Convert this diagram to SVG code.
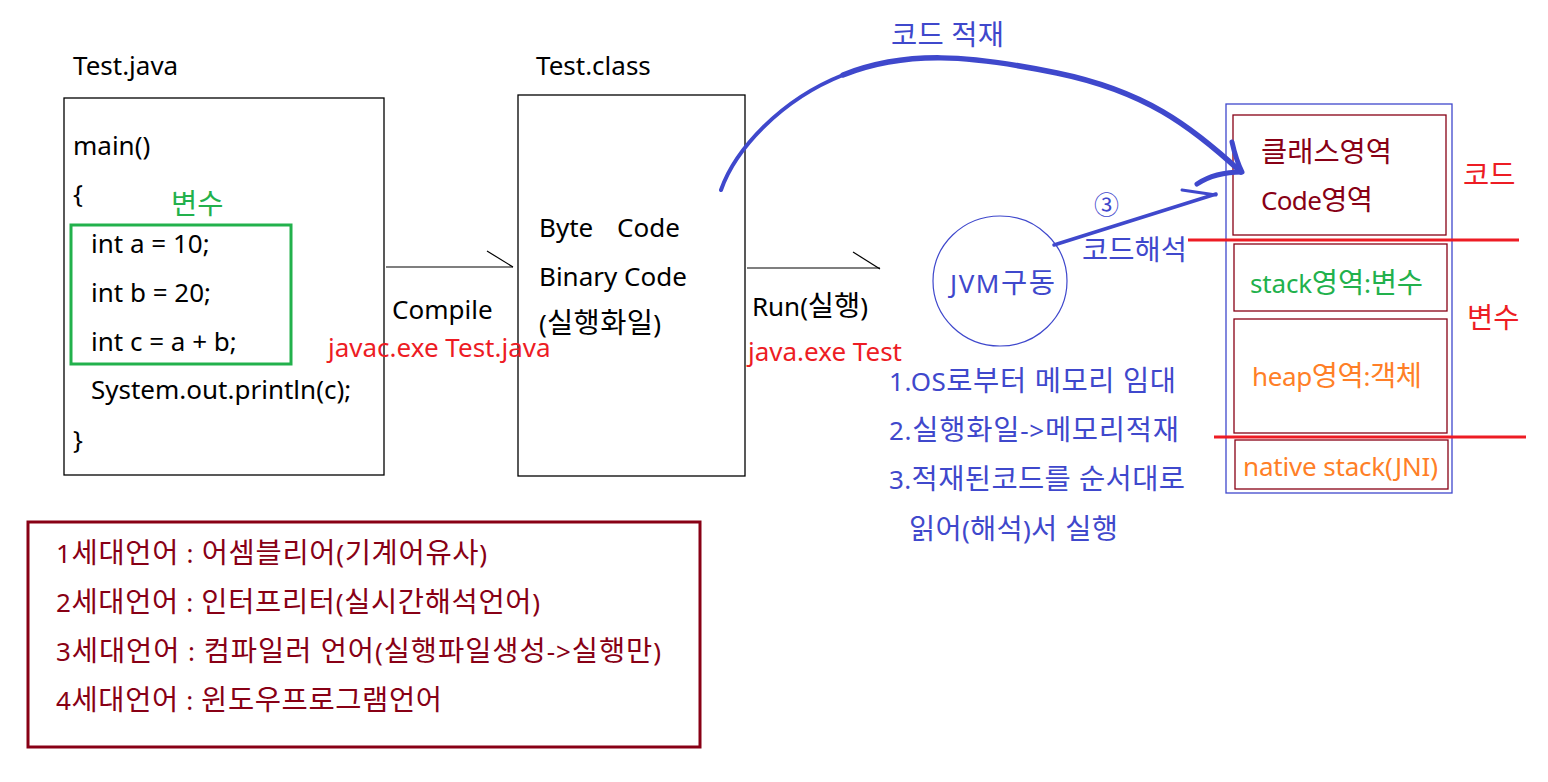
<svg xmlns="http://www.w3.org/2000/svg" width="1548" height="782" viewBox="0 0 1548 782">
<style>
text { font-family: "Noto Sans", "Noto Sans CJK KR", sans-serif; font-size: 26px; }
.h { font-size: 28.5px; }
.k { fill: #000000; }
.b { fill: #3f48cc; }
.r { fill: #ed1c24; }
.g { fill: #22b14c; }
.o { fill: #ff7f27; }
.d { fill: #880015; }
.box { fill: none; stroke: #000000; stroke-width: 1.3; }
.mem { fill: none; stroke: #880015; stroke-width: 1.3; }
.conn { fill: none; stroke: #000000; stroke-width: 1.2; }
.blue { fill: none; stroke: #3f48cc; stroke-linecap: round; stroke-linejoin: round; }
.redline { stroke: #ed1c24; stroke-width: 3; }
</style>
<rect width="1548" height="782" fill="#ffffff"/>

<g id="test-java">
  <text class="k" x="73" y="75">Test.java</text>
  <rect class="box" x="64" y="98" width="320" height="377"/>
  <text class="k" x="73" y="155">main()</text>
  <text class="k" x="73" y="203">{</text>
  <text class="g h" x="171" y="214">변수</text>
  <rect x="71" y="225" width="220" height="139" fill="none" stroke="#22b14c" stroke-width="3"/>
  <text class="k" x="91" y="253">int a = 10;</text>
  <text class="k" x="91" y="302">int b = 20;</text>
  <text class="k" x="91" y="351">int c = a + b;</text>
  <text class="k" x="91" y="399">System.out.println(c);</text>
  <text class="k" x="73" y="449">}</text>
</g>

<g id="test-class">
  <text class="k" x="536" y="75">Test.class</text>
  <rect class="box" x="518" y="95" width="227" height="381"/>
  <text class="k" x="539" y="237">Byte<tspan x="617">Code</tspan></text>
  <text class="k" x="539" y="286">Binary Code</text>
  <text class="k" x="539" y="333" textLength="122" lengthAdjust="spacing">(<tspan class="h">실행화일</tspan>)</text>
</g>

<g id="jvm">
  <ellipse cx="1000" cy="281" rx="67" ry="65" fill="none" stroke="#3f48cc" stroke-width="1.2"/>
  <text class="b" x="950" y="293" textLength="105" lengthAdjust="spacing">JVM<tspan class="h">구동</tspan></text>
</g>

<g id="memory">
  <rect x="1226" y="104" width="226" height="389" fill="none" stroke="#3f48cc" stroke-width="1.3"/>
  <rect class="mem" x="1233" y="115" width="213" height="120"/>
  <rect class="mem" x="1234" y="244" width="213" height="67"/>
  <rect class="mem" x="1234" y="319" width="213" height="114"/>
  <rect class="mem" x="1235" y="440" width="213" height="49"/>
  <text class="d h" x="1261" y="162" textLength="131" lengthAdjust="spacing">클래스영역</text>
  <text class="d" x="1261" y="210" textLength="112" lengthAdjust="spacing">Code<tspan class="h">영역</tspan></text>
  <text class="g" x="1250" y="293" textLength="173" lengthAdjust="spacing">stack<tspan class="h">영역</tspan>:<tspan class="h">변수</tspan></text>
  <text class="o" x="1252" y="386" textLength="170" lengthAdjust="spacing">heap<tspan class="h">영역</tspan>:<tspan class="h">객체</tspan></text>
  <text class="o" x="1243" y="476" textLength="195" lengthAdjust="spacing">native stack(JNI)</text>
  <line class="redline" x1="1188" y1="240" x2="1519" y2="240"/>
  <line class="redline" x1="1214" y1="437" x2="1526" y2="437"/>
  <text class="r h" x="1463" y="185">코드</text>
  <text class="r h" x="1467" y="328">변수</text>
</g>

<g id="generations">
  <rect x="28" y="522" width="672" height="225" fill="none" stroke="#880015" stroke-width="3"/>
  <text class="d" x="56" y="563" textLength="431" lengthAdjust="spacing">1<tspan class="h">세대언어</tspan> : <tspan class="h">어셈블리어</tspan>(<tspan class="h">기계어유사</tspan>)</text>
  <text class="d" x="56" y="612" textLength="484" lengthAdjust="spacing">2<tspan class="h">세대언어</tspan> : <tspan class="h">인터프리터</tspan>(<tspan class="h">실시간해석언어</tspan>)</text>
  <text class="d" x="56" y="661" textLength="605" lengthAdjust="spacing">3<tspan class="h">세대언어</tspan> : <tspan class="h">컴파일러 언어</tspan>(<tspan class="h">실행파일생성</tspan>-&gt;<tspan class="h">실행만</tspan>)</text>
  <text class="d" x="56" y="710" textLength="386" lengthAdjust="spacing">4<tspan class="h">세대언어</tspan> : <tspan class="h">윈도우프로그램언어</tspan></text>
</g>

<g id="jvm-steps">
  <text class="b" x="889" y="391" textLength="287" lengthAdjust="spacing">1.OS<tspan class="h">로부터 메모리 임대</tspan></text>
  <text class="b" x="889" y="440" textLength="290" lengthAdjust="spacing">2.<tspan class="h">실행화일</tspan>-&gt;<tspan class="h">메모리적재</tspan></text>
  <text class="b" x="889" y="489" textLength="296" lengthAdjust="spacing">3.<tspan class="h">적재된코드를 순서대로</tspan></text>
  <text class="b" x="909" y="539" textLength="209" lengthAdjust="spacing"><tspan class="h">읽어</tspan>(<tspan class="h">해석</tspan>)<tspan class="h">서 실행</tspan></text>
</g>

<g id="connectors">
  <line class="conn" x1="386" y1="267" x2="513" y2="267"/>
  <line class="conn" x1="487" y1="251" x2="513" y2="267"/>
  <text class="k" x="392" y="319">Compile</text>
  <text class="r" x="328" y="357">javac.exe Test.java</text>

  <line class="conn" x1="747" y1="268" x2="880" y2="268"/>
  <line class="conn" x1="853" y1="252" x2="880" y2="269"/>
  <text class="k" x="752" y="316" textLength="116" lengthAdjust="spacing">Run(<tspan class="h">실행</tspan>)</text>
  <text class="r" x="748" y="361">java.exe Test</text>

  <path class="blue" stroke-width="4" d="M721,190 C735,150 780,100 843,75"/>
  <path class="blue" stroke-width="5.5" d="M843,75 C906,50 970,55 1057,73 C1144,91 1190,125 1241,172"/>
  <path class="blue" stroke-width="5" d="M1232,142 Q1236,160 1242,172 Q1215,172 1197,184"/>
  <text class="b h" x="891" y="45" textLength="113" lengthAdjust="spacing">코드 적재</text>

  <line class="blue" stroke-width="3.5" x1="1054" y1="245" x2="1216" y2="194"/>
  <line class="blue" stroke-width="3" x1="1182" y1="190" x2="1216" y2="195"/>
  <text class="b" x="1094" y="214" style="font-size:25px">③</text>
  <text class="b h" x="1082" y="260">코드해석</text>
</g>
</svg>
